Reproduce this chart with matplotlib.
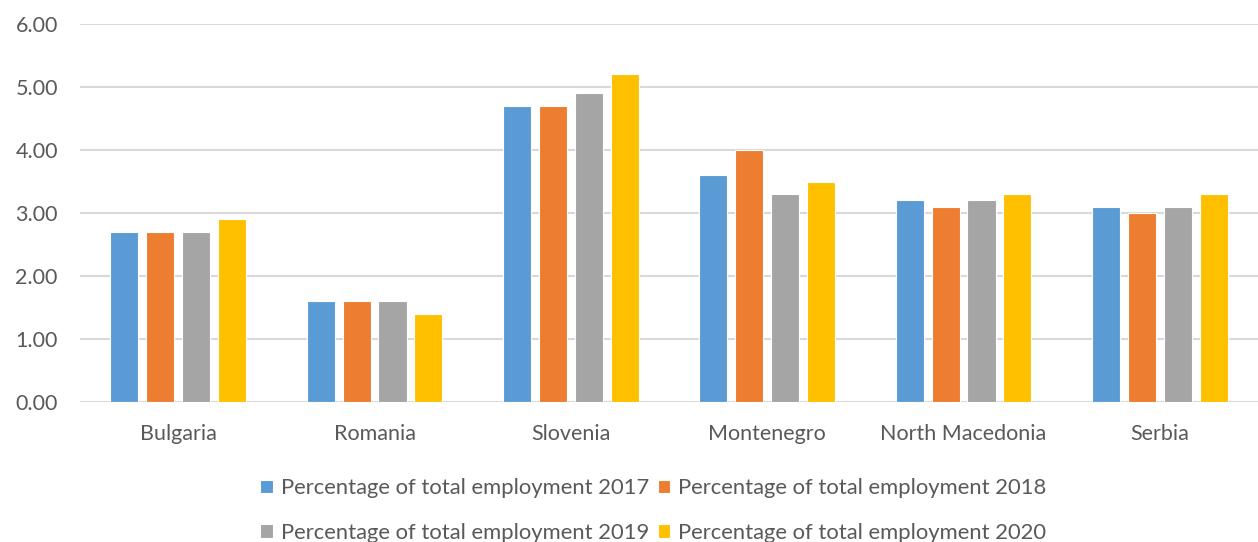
import numpy as np
from matplotlib import pyplot as plt

countries = ["Bulgaria", "Romania", "Slovenia", "Montenegro", "North Macedonia", "Serbia"]
years = ["2017", "2018", "2019", "2020"]
pct_2017 = [2.7, 1.6, 4.7, 3.6, 3.2, 3.1]
pct_2018 = [2.7, 1.6, 4.7, 4.0, 3.1, 3.0]
pct_2019 = [2.7, 1.6, 4.9, 3.3, 3.2, 3.1]
pct_2020 = [2.9, 1.4, 5.2, 3.5, 3.3, 3.3]
colors = ["#5B9BD5", "#ED7D31", "#A5A5A5", "#FFC000"]

plt.rcParams['font.family'] = ['Lato', 'DejaVu Sans']
text_col = "#595959"

fig = plt.figure(figsize=(12.58, 5.42), dpi=100)
ax = fig.add_axes([0.0636, 0.2583, 0.9364, 0.6974])

x = np.arange(len(countries))
step = 0.183
width = 0.143
series = [pct_2017, pct_2018, pct_2019, pct_2020]
bars = []
for i, vals in enumerate(series):
    b = ax.bar(x + (i - 1.5) * step, vals, width, color=colors[i], edgecolor="white",
               linewidth=0.8, zorder=3, label="Percentage of total employment " + years[i])
    bars.append(b)

ax.set_xlim(-0.5, len(countries) - 0.5)
ax.set_ylim(0, 6)
ax.set_yticks(np.arange(0, 7, 1))
ax.set_yticklabels(["%.2f" % v for v in np.arange(0, 7, 1)])
ax.set_xticks(x)
ax.set_xticklabels(countries)
ax.yaxis.grid(True, color="#D9D9D9", linewidth=1.5, zorder=0)
ax.set_axisbelow(True)
for s in ax.spines.values():
    s.set_visible(False)
ax.tick_params(axis="y", length=0, pad=16, labelsize=15.5, labelcolor=text_col)
ax.tick_params(axis="x", length=0, pad=16, labelsize=15.5, labelcolor=text_col)

# legend fills column-wise, so reorder to get 2017/2018 on the first row
order = [0, 2, 1, 3]
leg = fig.legend([bars[i] for i in order],
                 ["Percentage of total employment " + years[i] for i in order],
                 loc="center", bbox_to_anchor=(0.5195, 0.058), ncol=2, frameon=False,
                 fontsize=15.8, labelcolor=text_col, handlelength=0.56, handleheight=0.56,
                 handletextpad=0.37, columnspacing=0.4, labelspacing=1.1)

fig.savefig("out.png", dpi=100)
